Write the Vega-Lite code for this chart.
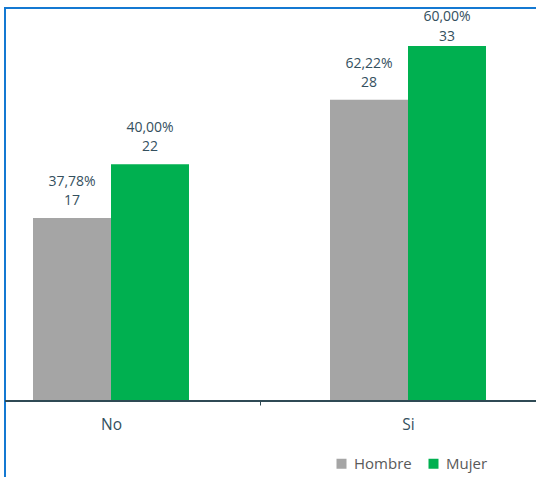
{
  "$schema": "https://vega.github.io/schema/vega-lite/v6.json",
  "autosize": {"type": "none"},
  "padding": {"left": 5, "top": 8, "right": 0, "bottom": 0},
  "width": 560,
  "height": 480,
  "background": "white",
  "config": {
    "font": "Open Sans",
    "view": {"stroke": "#1479d2", "strokeWidth": 2},
    "locale": {"number": {"decimal": ",", "thousands": ".", "grouping": [3], "currency": ["", " €"]}}
  },
  "data": {
    "values": [
      {"respuesta": "No", "sexo": "Hombre", "n": 17, "pct": 0.3778},
      {"respuesta": "No", "sexo": "Mujer", "n": 22, "pct": 0.40},
      {"respuesta": "Si", "sexo": "Hombre", "n": 28, "pct": 0.6222},
      {"respuesta": "Si", "sexo": "Mujer", "n": 33, "pct": 0.60}
    ]
  },
  "layer": [
    {
      "mark": {"type": "bar"},
      "encoding": {
        "x": {
          "field": "respuesta", "type": "nominal",
          "scale": {"range": [-42.5, 551.5], "paddingInner": 0, "paddingOuter": 0},
          "axis": {
            "title": null, "domain": false, "tickBand": "extent", "ticks": true,
            "tickSize": 4, "tickColor": "#2f4a55", "tickWidth": 1,
            "labelAngle": 0, "labelFontSize": 15.5, "labelColor": "#34505e",
            "labelPadding": 12, "offset": -87, "grid": false
          }
        },
        "xOffset": {
          "field": "sexo", "type": "nominal",
          "scale": {"paddingInner": 0, "paddingOuter": 0.904}
        },
        "y": {
          "field": "n", "type": "quantitative",
          "scale": {"domain": [0, 33], "range": [393, 38], "nice": false, "zero": true},
          "axis": null
        },
        "color": {
          "field": "sexo", "type": "nominal",
          "scale": {"domain": ["Hombre", "Mujer"], "range": ["#a5a5a5", "#00b050"]},
          "legend": {
            "title": null, "orient": "none", "direction": "horizontal",
            "legendX": 329, "legendY": 448,
            "symbolType": "square", "symbolSize": 100, "symbolStrokeWidth": 0,
            "labelFontSize": 15, "labelColor": "#595959", "labelOffset": 5,
            "columnPadding": 14
          }
        }
      }
    },
    {
      "transform": [{"filter": "datum.n < 33"}],
      "layer": [
        {
          "mark": {"type": "text", "fontSize": 14, "color": "#34505e", "baseline": "middle", "dy": -17},
          "encoding": {
            "x": {"field": "respuesta", "type": "nominal"},
            "xOffset": {"field": "sexo", "type": "nominal"},
            "y": {"field": "n", "type": "quantitative"},
            "text": {"field": "n", "type": "quantitative"}
          }
        },
        {
          "mark": {"type": "text", "fontSize": 14, "color": "#34505e", "baseline": "middle", "dy": -36},
          "encoding": {
            "x": {"field": "respuesta", "type": "nominal"},
            "xOffset": {"field": "sexo", "type": "nominal"},
            "y": {"field": "n", "type": "quantitative"},
            "text": {"field": "pct", "type": "quantitative", "format": ".2%"}
          }
        }
      ]
    },
    {
      "transform": [{"filter": "datum.n >= 33"}],
      "layer": [
        {
          "mark": {"type": "text", "fontSize": 14, "color": "#34505e", "baseline": "middle", "dy": -9},
          "encoding": {
            "x": {"field": "respuesta", "type": "nominal"},
            "xOffset": {"field": "sexo", "type": "nominal"},
            "y": {"field": "n", "type": "quantitative"},
            "text": {"field": "n", "type": "quantitative"}
          }
        },
        {
          "mark": {"type": "text", "fontSize": 14, "color": "#34505e", "baseline": "middle", "dy": -29},
          "encoding": {
            "x": {"field": "respuesta", "type": "nominal"},
            "xOffset": {"field": "sexo", "type": "nominal"},
            "y": {"field": "n", "type": "quantitative"},
            "text": {"field": "pct", "type": "quantitative", "format": ".2%"}
          }
        }
      ]
    },
    {
      "mark": {"type": "rule", "color": "#2f4a55", "strokeWidth": 1.5},
      "encoding": {"y": {"datum": 0, "type": "quantitative"}}
    }
  ]
}
